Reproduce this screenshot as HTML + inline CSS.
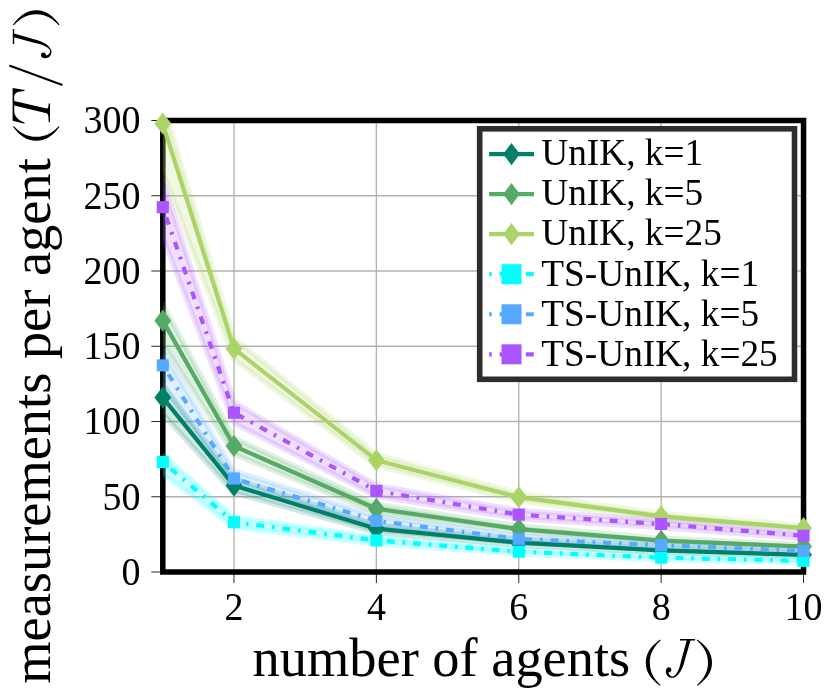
<!DOCTYPE html>
<html><head><meta charset="utf-8"><title>measurements per agent</title>
<style>html,body{margin:0;padding:0;background:#fff;}body{width:831px;height:697px;overflow:hidden;}svg{display:block;will-change:transform;}text{font-family:"Liberation Serif",serif;fill:#000;}</style></head><body>
<svg width="831" height="697" viewBox="0 0 831 697">
<rect width="831" height="697" fill="#fff"/>
<defs><clipPath id="ax"><rect x="162.8" y="120.5" width="640.75" height="451.5"/></clipPath></defs>
<g stroke="#b2b2b2" stroke-width="1.35" fill="none">
<path d="M233.99 120.5V572"/>
<path d="M376.38 120.5V572"/>
<path d="M518.77 120.5V572"/>
<path d="M661.16 120.5V572"/>
<path d="M162.8 496.75H803.55"/>
<path d="M162.8 421.5H803.55"/>
<path d="M162.8 346.25H803.55"/>
<path d="M162.8 271H803.55"/>
<path d="M162.8 195.75H803.55"/>
</g>
<g stroke="#262626" stroke-width="1.0" fill="none">
<path d="M233.99 572V583"/>
<path d="M376.38 572V583"/>
<path d="M518.77 572V583"/>
<path d="M661.16 572V583"/>
<path d="M803.55 572V583"/>
<path d="M151.3 572H162.8"/>
<path d="M151.3 496.75H162.8"/>
<path d="M151.3 421.5H162.8"/>
<path d="M151.3 346.25H162.8"/>
<path d="M151.3 271H162.8"/>
<path d="M151.3 195.75H162.8"/>
<path d="M151.3 120.5H162.8"/>
</g>
<rect x="162.8" y="120.5" width="640.75" height="451.5" fill="none" stroke="#000" stroke-width="5.5"/>
<g clip-path="url(#ax)">
<path d="M162.8 385.35L233.99 478.63L376.38 524.91L518.77 539.95L661.16 548.2L803.55 553.06L803.55 556.63L661.16 552.45L518.77 545.35L376.38 532.41L233.99 492.59L162.8 413.87Z" fill="#008066" fill-opacity="0.18" stroke="#008066" stroke-opacity="0.18" stroke-width="5.4" stroke-linejoin="round"/>
<path d="M162.8 304.31L233.99 437.97L376.38 504.5L518.77 526.03L661.16 538.32L803.55 544.54L803.55 548.59L661.16 543.07L518.77 532.18L376.38 513.08L233.99 454.09L162.8 344.04Z" fill="#55aa66" fill-opacity="0.18" stroke="#55aa66" stroke-opacity="0.18" stroke-width="5.4" stroke-linejoin="round"/>
<path d="M162.8 104.49L233.99 337.88L376.38 454.53L518.77 493.26L661.16 513.25L803.55 525.53L803.55 530.58L661.16 519.38L518.77 501.14L376.38 465.82L233.99 359.43L162.8 172.11Z" fill="#aad466" fill-opacity="0.18" stroke="#aad466" stroke-opacity="0.18" stroke-width="5.4" stroke-linejoin="round"/>
<path d="M162.8 454.7L233.99 517.2L376.38 537.05L518.77 549.35L661.16 555.92L803.55 559.36L803.55 562.37L661.16 559.49L518.77 554.01L376.38 543.74L233.99 527.17L162.8 473.95Z" fill="#00ffff" fill-opacity="0.18" stroke="#00ffff" stroke-opacity="0.18" stroke-width="5.4" stroke-linejoin="round"/>
<path d="M162.8 350.97L233.99 471.03L376.38 516.49L518.77 535.91L661.16 542.7L803.55 548.85L803.55 553.01L661.16 547.72L518.77 541.87L376.38 525.17L233.99 486.05L162.8 384.56Z" fill="#55aaff" fill-opacity="0.18" stroke="#55aaff" stroke-opacity="0.18" stroke-width="5.4" stroke-linejoin="round"/>
<path d="M162.8 180.6L233.99 402.4L376.38 485.35L518.77 510.6L661.16 520.51L803.55 532.98L803.55 538.48L661.16 527.47L518.77 518.71L376.38 496.41L233.99 423.14L162.8 237.24Z" fill="#aa55ff" fill-opacity="0.18" stroke="#aa55ff" stroke-opacity="0.18" stroke-width="5.4" stroke-linejoin="round"/>
</g>
<path d="M162.8 397.57L233.99 485.61L376.38 528.66L518.77 542.65L661.16 550.33L803.55 554.84" fill="none" stroke="#008066" stroke-width="4.2" stroke-linejoin="round"/>
<path d="M162.8 386.52L171.2 397.57L162.8 408.62L154.4 397.57Z" fill="#008066"/>
<path d="M233.99 474.56L242.39 485.61L233.99 496.66L225.59 485.61Z" fill="#008066"/>
<path d="M376.38 517.61L384.78 528.66L376.38 539.71L367.98 528.66Z" fill="#008066"/>
<path d="M518.77 531.6L527.17 542.65L518.77 553.7L510.37 542.65Z" fill="#008066"/>
<path d="M661.16 539.28L669.56 550.33L661.16 561.38L652.76 550.33Z" fill="#008066"/>
<path d="M803.55 543.79L811.95 554.84L803.55 565.89L795.15 554.84Z" fill="#008066"/>
<path d="M162.8 320.66L233.99 446.03L376.38 508.79L518.77 529.11L661.16 540.7L803.55 546.57" fill="none" stroke="#55aa66" stroke-width="4.2" stroke-linejoin="round"/>
<path d="M162.8 309.61L171.2 320.66L162.8 331.71L154.4 320.66Z" fill="#55aa66"/>
<path d="M233.99 434.98L242.39 446.03L233.99 457.08L225.59 446.03Z" fill="#55aa66"/>
<path d="M376.38 497.74L384.78 508.79L376.38 519.84L367.98 508.79Z" fill="#55aa66"/>
<path d="M518.77 518.06L527.17 529.11L518.77 540.16L510.37 529.11Z" fill="#55aa66"/>
<path d="M661.16 529.65L669.56 540.7L661.16 551.75L652.76 540.7Z" fill="#55aa66"/>
<path d="M803.55 535.52L811.95 546.57L803.55 557.62L795.15 546.57Z" fill="#55aa66"/>
<path d="M162.8 123.51L233.99 348.66L376.38 460.18L518.77 497.2L661.16 516.32L803.55 528.05" fill="none" stroke="#aad466" stroke-width="4.2" stroke-linejoin="round"/>
<path d="M162.8 112.46L171.2 123.51L162.8 134.56L154.4 123.51Z" fill="#aad466"/>
<path d="M233.99 337.61L242.39 348.66L233.99 359.71L225.59 348.66Z" fill="#aad466"/>
<path d="M376.38 449.13L384.78 460.18L376.38 471.23L367.98 460.18Z" fill="#aad466"/>
<path d="M518.77 486.15L527.17 497.2L518.77 508.25L510.37 497.2Z" fill="#aad466"/>
<path d="M661.16 505.27L669.56 516.32L661.16 527.37L652.76 516.32Z" fill="#aad466"/>
<path d="M803.55 517L811.95 528.05L803.55 539.1L795.15 528.05Z" fill="#aad466"/>
<path d="M162.8 461.98L233.99 522.18L376.38 540.39L518.77 551.68L661.16 557.7L803.55 560.86" fill="none" stroke="#00ffff" stroke-width="4.2" stroke-linejoin="round" stroke-dasharray="2.6 7.9 7.9 7.9"/>
<rect x="156.75" y="455.93" width="12.1" height="12.1" fill="#00ffff"/>
<rect x="227.94" y="516.13" width="12.1" height="12.1" fill="#00ffff"/>
<rect x="370.33" y="534.35" width="12.1" height="12.1" fill="#00ffff"/>
<rect x="512.72" y="545.63" width="12.1" height="12.1" fill="#00ffff"/>
<rect x="655.11" y="551.65" width="12.1" height="12.1" fill="#00ffff"/>
<rect x="797.5" y="554.81" width="12.1" height="12.1" fill="#00ffff"/>
<path d="M162.8 365.36L233.99 478.54L376.38 520.83L518.77 538.89L661.16 545.21L803.55 550.93" fill="none" stroke="#55aaff" stroke-width="4.2" stroke-linejoin="round" stroke-dasharray="2.6 7.9 7.9 7.9"/>
<rect x="156.75" y="359.31" width="12.1" height="12.1" fill="#55aaff"/>
<rect x="227.94" y="472.49" width="12.1" height="12.1" fill="#55aaff"/>
<rect x="370.33" y="514.78" width="12.1" height="12.1" fill="#55aaff"/>
<rect x="512.72" y="532.84" width="12.1" height="12.1" fill="#55aaff"/>
<rect x="655.11" y="539.16" width="12.1" height="12.1" fill="#55aaff"/>
<rect x="797.5" y="544.88" width="12.1" height="12.1" fill="#55aaff"/>
<path d="M162.8 207.19L233.99 412.77L376.38 490.88L518.77 514.66L661.16 523.99L803.55 535.73" fill="none" stroke="#aa55ff" stroke-width="4.2" stroke-linejoin="round" stroke-dasharray="2.6 7.9 7.9 7.9"/>
<rect x="156.75" y="201.14" width="12.1" height="12.1" fill="#aa55ff"/>
<rect x="227.94" y="406.72" width="12.1" height="12.1" fill="#aa55ff"/>
<rect x="370.33" y="484.83" width="12.1" height="12.1" fill="#aa55ff"/>
<rect x="512.72" y="508.61" width="12.1" height="12.1" fill="#aa55ff"/>
<rect x="655.11" y="517.94" width="12.1" height="12.1" fill="#aa55ff"/>
<rect x="797.5" y="529.68" width="12.1" height="12.1" fill="#aa55ff"/>
<g font-size="38">
<text transform="translate(140.4 584.8) scale(1 1.03)" text-anchor="end">0</text>
<text transform="translate(140.4 509.55) scale(1 1.03)" text-anchor="end">50</text>
<text transform="translate(140.4 434.3) scale(1 1.03)" text-anchor="end">100</text>
<text transform="translate(140.4 359.05) scale(1 1.03)" text-anchor="end">150</text>
<text transform="translate(140.4 283.8) scale(1 1.03)" text-anchor="end">200</text>
<text transform="translate(140.4 208.55) scale(1 1.03)" text-anchor="end">250</text>
<text transform="translate(140.4 133.3) scale(1 1.03)" text-anchor="end">300</text>
<text transform="translate(233.99 620.2) scale(1 1.03)" text-anchor="middle">2</text>
<text transform="translate(376.38 620.2) scale(1 1.03)" text-anchor="middle">4</text>
<text transform="translate(518.77 620.2) scale(1 1.03)" text-anchor="middle">6</text>
<text transform="translate(661.16 620.2) scale(1 1.03)" text-anchor="middle">8</text>
<text transform="translate(803.55 620.2) scale(1 1.03)" text-anchor="middle">10</text>
</g>
<text id="xl" x="252.6" y="676.3" font-size="54.4">number of agents</text>
<g transform="translate(0 676.3)">
<path d="M660.1 -36.7C651.23 -30.23 645.8 -23.3 645.8 -13.6C645.8 -3.9 651.23 3.03 660.1 9.5L660.6 8.6C653.9 2.57 649.8 -4.36 649.8 -13.6C649.8 -22.84 653.9 -29.77 660.6 -35.8Z" fill="#000"/>
<path d="M690.5 -35.9L685 -16.8C683.6 -10.8 681.5 -5.3 678.2 -1.9C676.5 0 674.2 1.5 672 1.5C668.5 1.5 665.8 -1.3 665.8 -4.9C665.8 -7.3 667.2 -9.1 668.8 -9.1C670.3 -9.1 671.4 -7.9 671.4 -6.5C671.4 -4.8 670 -3.9 668.4 -3.9C669 -1.9 670.4 0.2 672.7 0.2C675 0.1 677.8 -4 679.4 -8.7C680.1 -11.1 680.8 -13.9 681.3 -16.2L686.7 -35.9ZM680 -37.2L695.1 -37.2L695.1 -35.8L680 -35.8Z" fill="#000"/>
<path d="M697.4 -36.7C706.45 -30.23 712 -23.3 712 -13.6C712 -3.9 706.45 3.03 697.4 9.5L696.9 8.6C703.78 2.57 708 -4.36 708 -13.6C708 -22.84 703.78 -29.77 696.9 -35.8Z" fill="#000"/>
</g>
<g transform="translate(50 683.8) rotate(-90)">
<text id="yl" x="0" y="0" font-size="54.4">measurements per agent</text>
<path d="M557.1 -37C548.36 -30.48 543 -23.49 543 -13.7C543 -3.91 548.36 3.08 557.1 9.6L557.6 8.7C551.03 2.61 547 -4.38 547 -13.7C547 -23.02 551.03 -30.01 557.6 -36.1Z" fill="#000"/>
<path d="M563.1 -37.4L595.8 -37.4L593.9 -25.4L592.9 -25.4C592.6 -31 591.5 -35.8 587 -35.8L582.9 -35.8L575.2 -3.4C575 -2 576.5 -1.4 580.2 -1.3L580.2 0L561.6 0L561.6 -1.3C567 -1.4 570 -1.6 570.6 -3.4L578.4 -35.8L573.5 -35.8C567 -35.8 564 -32 561 -25.4L560.1 -25.4Z" fill="#000"/>
<path d="M598.9 12.4L618.3 -40.7" stroke="#000" stroke-width="2.1" fill="none"/>
<path d="M650.3 -35.9L644.8 -16.8C643.4 -10.8 641.3 -5.3 638 -1.9C636.3 0 634 1.5 631.8 1.5C628.3 1.5 625.6 -1.3 625.6 -4.9C625.6 -7.3 627 -9.1 628.6 -9.1C630.1 -9.1 631.2 -7.9 631.2 -6.5C631.2 -4.8 629.8 -3.9 628.2 -3.9C628.8 -1.9 630.2 0.2 632.5 0.2C634.8 0.1 637.6 -4 639.2 -8.7C639.9 -11.1 640.6 -13.9 641.1 -16.2L646.5 -35.9ZM639.8 -37.2L654.9 -37.2L654.9 -35.8L639.8 -35.8Z" fill="#000"/>
<path d="M659 -37C667.99 -30.48 673.5 -23.49 673.5 -13.7C673.5 -3.91 667.99 3.08 659 9.6L658.5 8.7C665.32 2.61 669.5 -4.38 669.5 -13.7C669.5 -23.02 665.32 -30.01 658.5 -36.1Z" fill="#000"/>
</g>
<rect x="479.7" y="128.8" width="314.8" height="250.5" fill="#fff" stroke="#2d2d2d" stroke-width="5.6"/>
<g font-size="37.3">
<path d="M489.1 154.06H534" stroke="#008066" stroke-width="4.2" fill="none"/>
<path d="M511.5 142.91L519.8 154.06L511.5 165.21L503.2 154.06Z" fill="#008066"/>
<text transform="translate(541.3 165.36) scale(1 1.025)">UnIK, k=1</text>
<path d="M489.1 194.11H534" stroke="#55aa66" stroke-width="4.2" fill="none"/>
<path d="M511.5 182.96L519.8 194.11L511.5 205.26L503.2 194.11Z" fill="#55aa66"/>
<text transform="translate(541.3 205.41) scale(1 1.025)">UnIK, k=5</text>
<path d="M489.1 234.16H534" stroke="#aad466" stroke-width="4.2" fill="none"/>
<path d="M511.5 223.01L519.8 234.16L511.5 245.31L503.2 234.16Z" fill="#aad466"/>
<text transform="translate(541.3 245.46) scale(1 1.025)">UnIK, k=25</text>
<path d="M489.1 274.21H534" stroke="#00ffff" stroke-width="4.2" fill="none" stroke-dasharray="2.6 7.9 7.9 7.9"/>
<rect x="501.5" y="264.21" width="20" height="20" fill="#00ffff"/>
<text transform="translate(541.3 285.51) scale(1 1.025)">TS-UnIK, k=1</text>
<path d="M489.1 314.26H534" stroke="#55aaff" stroke-width="4.2" fill="none" stroke-dasharray="2.6 7.9 7.9 7.9"/>
<rect x="501.5" y="304.26" width="20" height="20" fill="#55aaff"/>
<text transform="translate(541.3 325.56) scale(1 1.025)">TS-UnIK, k=5</text>
<path d="M489.1 354.31H534" stroke="#aa55ff" stroke-width="4.2" fill="none" stroke-dasharray="2.6 7.9 7.9 7.9"/>
<rect x="501.5" y="344.31" width="20" height="20" fill="#aa55ff"/>
<text transform="translate(541.3 365.61) scale(1 1.025)">TS-UnIK, k=25</text>
</g>
</svg></body></html>
